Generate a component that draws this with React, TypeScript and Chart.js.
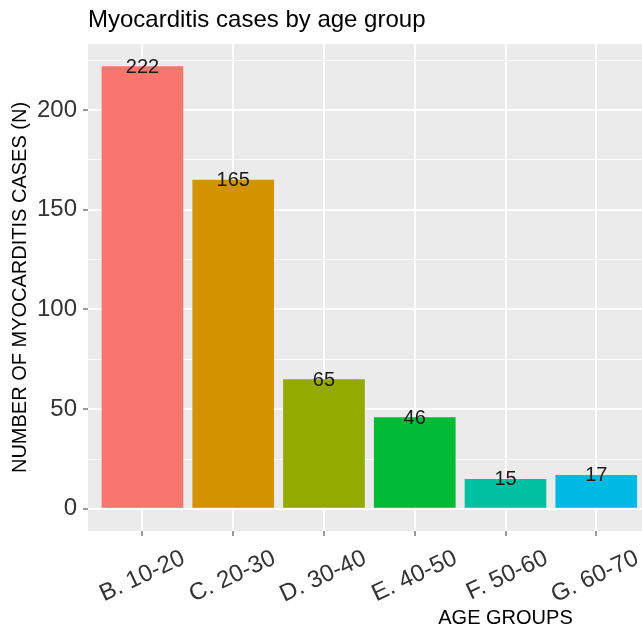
import React, { useEffect, useRef } from 'react';
import { Chart, registerables } from 'chart.js';

Chart.register(...registerables);

const categories = ['B. 10-20', 'C. 20-30', 'D. 30-40', 'E. 40-50', 'F. 50-60', 'G. 60-70'];
const cases = [222, 165, 65, 46, 15, 17];
const barColors = ['#F8766D', '#D39200', '#93AA00', '#00BA38', '#00C19F', '#00B9E3'];
const yTickValues = [0, 25, 50, 75, 100, 125, 150, 175, 200, 225];
const yLabelStep = 50;
const chartTitle = 'Myocarditis cases by age group';
const xAxisTitle = 'AGE GROUPS';
const yAxisTitle = 'NUMBER OF MYOCARDITIS CASES (N)';

const yMin = -11.1;
const yMax = 233.1;
const xMin = -0.6;
const xMax = 8.6;

const FONT = "'Liberation Sans', Arial, sans-serif";

export default function App() {
  const ref = useRef<HTMLCanvasElement | null>(null);

  useEffect(() => {
    if (!ref.current) return;
    Chart.defaults.font.family = FONT;

    const panelBg = {
      id: 'panelBg',
      beforeDraw(chart: any) {
        const { ctx, chartArea } = chart;
        ctx.save();
        ctx.fillStyle = '#EBEBEB';
        ctx.fillRect(chartArea.left, chartArea.top, chartArea.right - chartArea.left, chartArea.bottom - chartArea.top);
        ctx.restore();
      },
    };

    const barLabels = {
      id: 'barLabels',
      afterDatasetsDraw(chart: any) {
        const { ctx } = chart;
        const meta = chart.getDatasetMeta(0);
        ctx.save();
        ctx.font = `20px ${FONT}`;
        ctx.fillStyle = '#1a1a1a';
        ctx.textAlign = 'center';
        ctx.textBaseline = 'middle';
        meta.data.forEach((el: any, i: number) => {
          ctx.fillText(String(cases[i]), el.x, el.y + 1);
        });
        ctx.restore();
      },
    };

    const chart = new Chart(ref.current, {
      type: 'bar',
      data: {
        datasets: [
          {
            data: cases.map((v, i) => ({ x: i, y: v })),
            backgroundColor: barColors,
            borderWidth: 0,
            barPercentage: 0.9,
            categoryPercentage: 1,
          },
        ],
      },
      options: {
        animation: false,
        responsive: false,
        maintainAspectRatio: false,
        layout: { padding: 0 },
        plugins: {
          legend: { display: false },
          tooltip: { enabled: false },
          title: {
            display: true,
            text: chartTitle,
            align: 'start',
            fullSize: false,
            color: '#000000',
            font: { size: 24, weight: 'normal', family: FONT },
            padding: { top: 6, bottom: 9.2 },
          },
        },
        scales: {
          x: {
            type: 'linear',
            min: xMin,
            max: xMax,
            offset: false,
            afterBuildTicks: (scale: any) => {
              scale.ticks = categories.map((_, i) => ({ value: i }));
            },
            afterFit: (scale: any) => {
              scale.height = 100;
            },
            grid: {
              offset: false,
              color: '#FFFFFF',
              lineWidth: 2,
              drawTicks: true,
              tickLength: 5,
              tickColor: '#333333',
              tickWidth: 1,
            },
            border: { display: false },
            ticks: {
              autoSkip: false,
              minRotation: 25,
              maxRotation: 25,
              labelOffset: 41,
              padding: 8,
              color: '#333333',
              font: { size: 24, family: FONT },
              callback: (v: any) => categories[Math.round(Number(v))] ?? '',
            },
            title: {
              display: true,
              text: xAxisTitle,
              color: '#000000',
              font: { size: 20, family: FONT },
              padding: { top: 0, bottom: 1 },
            },
          },
          y: {
            type: 'linear',
            min: yMin,
            max: yMax,
            afterBuildTicks: (scale: any) => {
              scale.ticks = yTickValues.map((v) => ({ value: v }));
            },
            afterFit: (scale: any) => {
              scale.width = 88;
            },
            grid: {
              color: '#FFFFFF',
              lineWidth: (ctx: any) => (ctx.tick && ctx.tick.value % yLabelStep === 0 ? 2 : 1),
              drawTicks: true,
              tickLength: 5,
              tickColor: (ctx: any) => (ctx.tick && ctx.tick.value % yLabelStep === 0 ? '#333333' : 'rgba(0,0,0,0)'),
              tickWidth: 1,
            },
            border: { display: false },
            ticks: {
              padding: 6,
              color: '#333333',
              font: { size: 24, family: FONT },
              callback: (v: any) => (Number(v) % yLabelStep === 0 ? String(v) : ''),
            },
            title: {
              display: true,
              text: yAxisTitle,
              color: '#000000',
              font: { size: 20, family: FONT },
              padding: { top: 8, bottom: 0 },
            },
          },
        },
      },
      plugins: [panelBg, barLabels],
    } as any);

    return () => chart.destroy();
  }, []);

  return (
    <div
      style={{
        position: 'fixed',
        left: 0,
        top: 0,
        width: 642,
        height: 631,
        overflow: 'hidden',
        background: '#FFFFFF',
      }}
    >
      <canvas ref={ref} width={923} height={631} style={{ width: 923, height: 631, display: 'block' }} />
    </div>
  );
}
